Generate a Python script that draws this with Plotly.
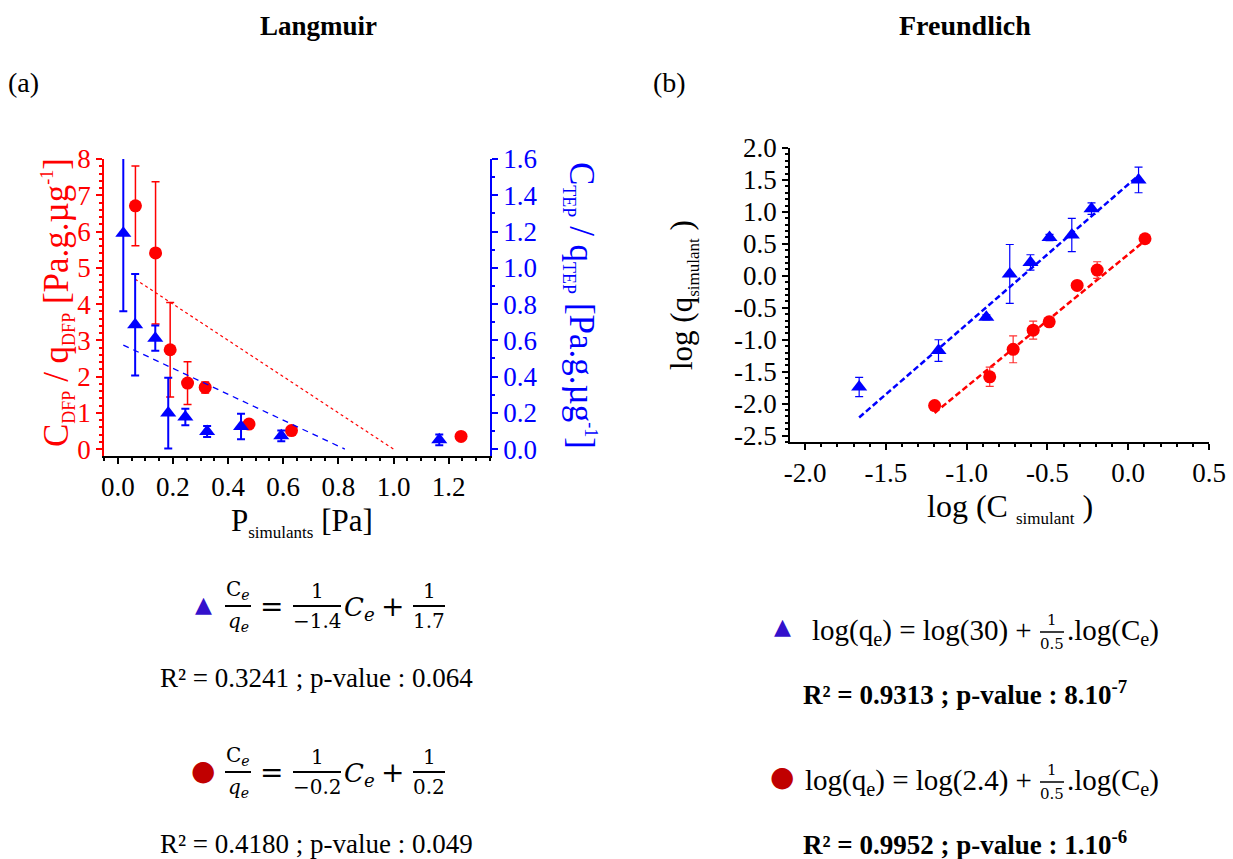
import plotly.graph_objects as go

W, H = 1233, 859

# ---------------- Langmuir data (panel a) ----------------
dfp_p = [0.064, 0.137, 0.190, 0.253, 0.317, 0.476, 0.630, 1.245]
dfp_ratio = [6.71, 5.41, 2.74, 1.82, 1.70, 0.69, 0.51, 0.35]
dfp_ratio_err = [1.10, 1.96, 1.30, 0.59, 0.15, 0.05, 0.10, 0.05]

tep_p = [0.020, 0.063, 0.136, 0.183, 0.245, 0.324, 0.447, 0.593, 1.166]
tep_ratio = [1.19, 0.686, 0.612, 0.199, 0.177, 0.097, 0.125, 0.073, 0.051]
tep_ratio_err = [0.43, 0.28, 0.07, 0.195, 0.046, 0.03, 0.07, 0.03, 0.03]

# Langmuir linear fits  Ce/qe = Ce/a + 1/b
dfp_fit_a, dfp_fit_b = -0.2, 0.2
tep_fit_a, tep_fit_b = -1.4, 1.7
dfp_fit_xstart = 0.063
tep_fit_xstart = 0.020

# ---------------- Freundlich data (panel b) ----------------
tep_logc = [-1.665, -1.174, -0.878, -0.733, -0.605, -0.487, -0.349, -0.227, 0.064]
tep_logq = [-1.74, -1.17, -0.65, 0.03, 0.21, 0.60, 0.64, 1.05, 1.50]
tep_logq_err = [0.15, 0.17, 0.04, 0.46, 0.12, 0.05, 0.26, 0.09, 0.20]

dfp_logc = [-1.198, -0.857, -0.712, -0.588, -0.489, -0.316, -0.192, 0.104]
dfp_logq = [-2.03, -1.58, -1.15, -0.85, -0.72, -0.15, 0.09, 0.58]
dfp_logq_err = [0.03, 0.15, 0.21, 0.14, 0.04, 0.05, 0.13, 0.02]

# drawn regression lines
tep_fr_slope, tep_fr_intercept = 2.19, 1.43
dfp_fr_slope, dfp_fr_intercept = 2.07, 0.335

# tick labels
a_x_ticks = [0.0, 0.2, 0.4, 0.6, 0.8, 1.0, 1.2]
a_yl_ticks = [0, 1, 2, 3, 4, 5, 6, 7, 8]
a_yr_ticks = [0.0, 0.2, 0.4, 0.6, 0.8, 1.0, 1.2, 1.4, 1.6]
b_x_ticks = [-2.0, -1.5, -1.0, -0.5, 0.0, 0.5]
b_y_ticks = [2.0, 1.5, 1.0, 0.5, 0.0, -0.5, -1.0, -1.5, -2.0, -2.5]


def lbl(v, fmt="{:.1f}"):
    return fmt.format(v).replace("\u2212", "-")


RED = "#ff0000"
BLUE = "#0000ff"
SERIF = "Liberation Serif"
MATH = "DejaVu Serif"

fig = go.Figure()

# ---- panel a traces ----
fig.add_trace(go.Scatter(
    x=dfp_p, y=dfp_ratio, mode="markers",
    marker=dict(symbol="circle", size=13, color=RED),
    error_y=dict(type="data", array=dfp_ratio_err, color=RED, thickness=1.5, width=4),
    xaxis="x", yaxis="y"))

fig.add_trace(go.Scatter(
    x=tep_p, y=tep_ratio, mode="markers",
    marker=dict(symbol="triangle-up", size=14, color=BLUE),
    error_y=dict(type="data", array=tep_ratio_err, color=BLUE, thickness=2, width=4),
    xaxis="x", yaxis="y2"))

dfp_root = -dfp_fit_a / dfp_fit_b
fx = [dfp_fit_xstart, dfp_root]
fig.add_trace(go.Scatter(
    x=fx, y=[xx / dfp_fit_a + 1 / dfp_fit_b for xx in fx], mode="lines",
    line=dict(color=RED, width=1.2, dash="dot"), xaxis="x", yaxis="y"))

tep_root = -tep_fit_a / tep_fit_b
tx = [tep_fit_xstart, tep_root]
fig.add_trace(go.Scatter(
    x=tx, y=[xx / tep_fit_a + 1 / tep_fit_b for xx in tx], mode="lines",
    line=dict(color=BLUE, width=1.3, dash="6px,5px"), xaxis="x", yaxis="y2"))

# ---- panel b traces ----
bx = [min(tep_logc), max(tep_logc)]
fig.add_trace(go.Scatter(
    x=bx, y=[tep_fr_intercept + tep_fr_slope * v for v in bx], mode="lines",
    line=dict(color=BLUE, width=2.5, dash="6px,3px"), xaxis="x2", yaxis="y3"))
rx = [min(dfp_logc), max(dfp_logc)]
fig.add_trace(go.Scatter(
    x=rx, y=[dfp_fr_intercept + dfp_fr_slope * v for v in rx], mode="lines",
    line=dict(color=RED, width=2.5, dash="6px,3px"), xaxis="x2", yaxis="y3"))

fig.add_trace(go.Scatter(
    x=tep_logc, y=tep_logq, mode="markers",
    marker=dict(symbol="triangle-up", size=14, color=BLUE),
    error_y=dict(type="data", array=tep_logq_err, color=BLUE, thickness=1.2, width=4),
    xaxis="x2", yaxis="y3"))
fig.add_trace(go.Scatter(
    x=dfp_logc, y=dfp_logq, mode="markers",
    marker=dict(symbol="circle", size=13, color=RED),
    error_y=dict(type="data", array=dfp_logq_err, color="#ff3030", thickness=1.2, width=4),
    xaxis="x2", yaxis="y3"))


def axis_common(color="black"):
    return dict(showgrid=False, zeroline=False, showline=True, linecolor=color,
                linewidth=1.5, ticks="outside", ticklen=6, tickwidth=1.5,
                automargin=False,
                tickcolor=color, tickfont=dict(family=SERIF, size=27, color=color))


fig.update_layout(
    width=W, height=H, autosize=False,
    margin=dict(l=0, r=0, t=0, b=0, pad=0, autoexpand=False),
    paper_bgcolor="white", plot_bgcolor="white",
    showlegend=False,
    xaxis=dict(domain=[104 / W, 490 / W], range=[-0.05, 1.35], anchor="y",
               tickvals=a_x_ticks, ticktext=[lbl(v) for v in a_x_ticks],
               minor=dict(ticks="outside", ticklen=3, tick0=0, dtick=0.05, tickcolor="black"),
               **axis_common()),
    yaxis=dict(domain=[1 - 456 / H, 1 - 159 / H], range=[-0.19, 8], anchor="x",
               tickvals=a_yl_ticks, ticktext=[str(v) for v in a_yl_ticks],
               minor=dict(ticks="outside", ticklen=3, tick0=0, dtick=0.2, tickcolor=RED),
               **axis_common(RED)),
    yaxis2=dict(overlaying="y", side="right", anchor="x", range=[-0.038, 1.6],
                tickvals=a_yr_ticks, ticktext=[lbl(v) for v in a_yr_ticks],
                minor=dict(ticks="outside", ticklen=3, tick0=0, dtick=0.1, tickcolor=BLUE),
                **axis_common(BLUE)),
    xaxis2=dict(domain=[790 / W, 1209 / W], range=[-2.093, 0.5], anchor="y3",
                tickvals=b_x_ticks, ticktext=[lbl(v) for v in b_x_ticks],
                minor=dict(ticks="outside", ticklen=3, tick0=0, dtick=0.1, tickcolor="black"),
                **axis_common()),
    yaxis3=dict(domain=[1 - 442 / H, 1 - 148 / H], range=[-2.6, 2.0], anchor="x2",
                tickvals=b_y_ticks, ticktext=[lbl(v) for v in b_y_ticks],
                minor=dict(ticks="outside", ticklen=3, tick0=0, dtick=0.1, tickcolor="black"),
                **axis_common()),
)

ann = []
shapes = []


def A(px, py, text, size=26, color="black", family=SERIF, xa="center", ya="middle", angle=0):
    ann.append(dict(x=px / W, y=1 - py / H, xref="paper", yref="paper", text=text,
                    showarrow=False, xanchor=xa, yanchor=ya, textangle=angle,
                    font=dict(family=family, size=size, color=color)))


def frac(xc, ybar, w, num, den, size=22, family=MATH, gap=1, lw=2):
    A(xc, ybar - gap, num, size=size, family=family, ya="bottom")
    A(xc, ybar + gap, den, size=size, family=family, ya="top")
    shapes.append(dict(type="line", xref="paper", yref="paper",
                       x0=(xc - w / 2) / W, x1=(xc + w / 2) / W,
                       y0=1 - ybar / H, y1=1 - ybar / H,
                       line=dict(color="black", width=lw)))


def sub(t, px=18):
    return "<sub><span style='font-size:%dpx'>%s</span></sub>" % (px, t)


def sup(t, px=18):
    return "<sup><span style='font-size:%dpx'>%s</span></sup>" % (px, t)


# titles
A(318, 26, "<b>Langmuir</b>", size=27)
A(965, 26, "<b>Freundlich</b>", size=28)
A(23, 83, "(a)", size=28)
A(669, 83, "(b)", size=28)

# axis titles panel a
A(58, 303, "C" + sub("DFP") + " / q" + sub("DFP") + " [Pa.g.µg" + sup("-1") + "]",
  size=35, color=RED, angle=-90)
A(580, 305, "C" + sub("TEP") + " / q" + sub("TEP") + " [Pa.g.µg" + sup("-1") + "]",
  size=35, color=BLUE, angle=90)
A(302, 522, "P" + sub("simulants", 17) + " [Pa]", size=31)
# axis titles panel b
A(683, 295, "log (q" + sub("simulant", 17) + " )", size=31, angle=-90)
A(1010, 508, "log (C " + sub("simulant", 17) + " )", size=32)

# Langmuir equations
for yrow, mark, mcol, a_txt, b_txt, r2 in [
    (606, "\u25B2", "#3311cc", "\u22121.4", "1.7", "R\u00b2 = 0.3241 ; p-value : 0.064"),
    (772, "\u25CF", "#c00000", "\u22120.2", "0.2", "R\u00b2 = 0.4180 ; p-value : 0.049"),
]:
    A(203, yrow - 2, mark, size=22 if mark == "\u25B2" else 28, color=mcol, family="DejaVu Sans")
    frac(238, yrow, 26, "C<sub><i>e</i></sub>", "<i>q<sub>e</sub></i>", size=20)
    A(271, yrow, "=", size=28, family=MATH)
    frac(317, yrow, 48, "1", a_txt, size=20)
    A(360, yrow + 2, "<i>C<sub>e</sub></i>", size=26, family=MATH)
    A(392, yrow, "+", size=28, family=MATH)
    frac(429, yrow, 32, "1", b_txt, size=20)
    A(316, yrow + 72, r2, size=27)

# Freundlich equations
for yrow, mark, mcol, k_txt, r2 in [
    (632, "\u25B2", "#3311cc", "30", "<b>R\u00b2 = 0.9313 ; p-value : 8.10<sup>-7</sup></b>"),
    (782, "\u25CF", "#c00000", "2.4", "<b>R\u00b2 = 0.9952 ; p-value : 1.10<sup>-6</sup></b>"),
]:
    A(782, yrow - 6, mark, size=22 if mark == "\u25B2" else 28, color=mcol, family="DejaVu Sans")
    A(1034, yrow, "log(q<sub>e</sub>) = log(" + k_txt + ") +", size=29, xa="right")
    frac(1052, yrow, 24, "1", "0.5", size=15, lw=1.5)
    A(1065, yrow, ".log(C<sub>e</sub>)", size=29, xa="left")
    A(965, yrow + 61, r2, size=27)

fig.update_layout(annotations=ann, shapes=shapes)

fig.write_html("out.html", config={"displayModeBar": False},
               post_script="document.body.style.margin='0px';")
